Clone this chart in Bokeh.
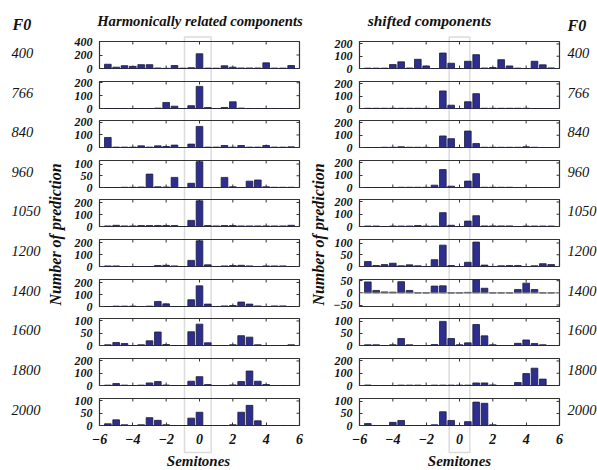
from bokeh.plotting import figure
from bokeh.models import Range1d, LinearAxis, FixedTicker, BoxAnnotation, Span
from bokeh.embed import file_html
from bokeh.resources import INLINE
from bokeh.core.properties import value

# ---------------- data ----------------
semitones = [-5.5, -5.0, -4.5, -4.0, -3.5, -3.0, -2.5, -2.0, -1.5, -1.0, -0.5, 0.0,
             0.5, 1.0, 1.5, 2.0, 2.5, 3.0, 3.5, 4.0, 4.5, 5.0, 5.5]
x_ticks = [-6, -4, -2, 0, 2, 4, 6]
f0_labels = ["400", "766", "840", "960", "1050", "1200", "1400", "1600", "1800", "2000"]

# Harmonically related components (left column)
harm_400 = [63, 20, 42, 32, 57, 57, 8, 3, 44, 5, 12, 218, 6, 5, 40, 20, 8, 8, 8, 84, 6, 6, 44]
harm_766 = [0, 0, 0, 0, 0, 0, 3, 47, 18, 0, 22, 172, 8, 0, 8, 52, 3, 0, 0, 0, 0, 0, 0]
harm_840 = [80, 3, 3, 3, 13, 3, 13, 8, 19, 0, 27, 168, 3, 3, 16, 3, 16, 3, 3, 16, 3, 3, 5]
harm_960 = [0, 0, 1, 1, 2, 57, 3, 2, 43, 0, 18, 110, 0, 0, 43, 3, 0, 27, 32, 3, 1, 1, 1]
harm_1050 = [5, 10, 5, 5, 8, 8, 8, 8, 8, 0, 51, 214, 8, 5, 8, 8, 5, 5, 5, 5, 5, 5, 10]
harm_1200 = [5, 5, 0, 0, 0, 0, 8, 10, 5, 0, 51, 214, 14, 0, 5, 8, 10, 5, 0, 5, 5, 5, 0]
harm_1400 = [0, 3, 3, 3, 0, 3, 42, 22, 0, 0, 56, 172, 20, 0, 5, 8, 37, 20, 5, 0, 5, 5, 0]
harm_1600 = [3, 12, 8, 0, 3, 19, 55, 4, 0, 0, 56, 87, 11, 0, 0, 3, 40, 34, 3, 0, 0, 0, 3]
harm_1800 = [3, 16, 3, 0, 3, 21, 32, 4, 0, 0, 35, 72, 8, 0, 0, 5, 32, 118, 35, 8, 0, 0, 0]
harm_2000 = [7, 23, 3, 0, 3, 32, 21, 3, 0, 0, 30, 54, 0, 0, 0, 3, 54, 82, 19, 0, 0, 0, 0]

# Shifted components (right column)
shift_400 = [3, 3, 3, 32, 54, 4, 75, 21, 0, 126, 43, 0, 59, 113, 4, 8, 72, 21, 3, 0, 59, 30, 5]
shift_766 = [2, 2, 2, 2, 2, 2, 2, 2, 0, 143, 27, 0, 55, 121, 2, 2, 2, 2, 2, 2, 0, 0, 0]
shift_840 = [0, 0, 2, 2, 6, 2, 2, 2, 0, 94, 72, 0, 134, 32, 2, 2, 2, 2, 2, 6, 2, 0, 0]
shift_960 = [0, 0, 0, 0, 2, 2, 2, 2, 19, 146, 11, 0, 52, 113, 2, 2, 2, 2, 0, 0, 0, 0, 0]
shift_1050 = [4, 4, 0, 4, 4, 4, 8, 4, 4, 113, 10, 0, 44, 88, 5, 5, 5, 5, 0, 4, 4, 4, 4]
shift_1200 = [21, 4, 8, 14, 3, 7, 3, 0, 29, 91, 4, 0, 18, 104, 6, 0, 3, 4, 4, 0, 3, 12, 8]
shift_1400 = [45, 10, 4, 3, 46, 10, 0, 0, 28, 29, 0, 0, 2, 55, 19, 0, 0, 0, 14, 40, 14, 0, 0]
shift_1600 = [3, 3, 0, 3, 29, 3, 0, 0, 4, 100, 29, 3, 11, 87, 40, 3, 0, 0, 9, 23, 8, 3, 0]
shift_1800 = [4, 0, 0, 0, 3, 3, 3, 0, 3, 3, 3, 3, 3, 21, 21, 5, 0, 0, 24, 97, 141, 52, 0]
shift_2000 = [8, 0, 0, 13, 21, 0, 0, 0, 3, 57, 21, 0, 16, 97, 92, 3, 0, 0, 0, 0, 0, 0, 0]

harm_series = [harm_400, harm_766, harm_840, harm_960, harm_1050,
               harm_1200, harm_1400, harm_1600, harm_1800, harm_2000]
shift_series = [shift_400, shift_766, shift_840, shift_960, shift_1050,
                shift_1200, shift_1400, shift_1600, shift_1800, shift_2000]

# y limits and y tick marks per panel
harm_ylim = [(0, 400), (0, 210), (0, 215), (0, 115), (0, 225),
             (0, 225), (0, 225), (0, 110), (0, 220), (0, 110)]
harm_yticks = [[0, 200, 400], [0, 100, 200], [0, 100, 200], [0, 50, 100], [0, 100, 200],
               [0, 100, 200], [0, 100, 200], [0, 50, 100], [0, 100, 200], [0, 50, 100]]
shift_ylim = [(0, 220), (0, 220), (0, 220), (0, 220), (0, 220),
              (0, 115), (-56, 55), (0, 112), (0, 220), (0, 112)]
shift_yticks = [[0, 100, 200], [0, 100, 200], [0, 100, 200], [0, 100, 200], [0, 100, 200],
                [0, 50, 100], [-50, 0, 50], [0, 50, 100], [0, 100, 200], [0, 50, 100]]

# highlighted semitone window (gray box) per column
harm_window = (-0.9, 0.7)
shift_window = (-0.62, 0.62)

# ---------------- style / layout ----------------
FONT = "Liberation Serif"
BAR_FILL = "#2e2e8e"
BAR_EDGE = "#1c1c3c"
FRAME = "#333333"
BOXC = "#8a8a8a"

W, H = 597, 470
LEFT_FRAME_X = 99
RIGHT_FRAME_X = 359
FRAME_W = 200
FRAME_H = 27
PANEL_TOPS = [41, 81, 120, 160, 199, 239, 279, 318, 358, 398]
BL, BT = 40, 12


def place(fig, left, top):
    fig.styles = {"position": "absolute", "left": f"{left}px", "top": f"{top}px"}


def make_axis(ticks, label_size="12px", standoff=7):
    ax = LinearAxis(ticker=FixedTicker(ticks=ticks))
    ax.axis_line_color = None
    ax.major_tick_in = 3
    ax.major_tick_out = 0
    ax.major_tick_line_color = FRAME
    ax.minor_tick_line_color = None
    ax.major_label_text_font = FONT
    ax.major_label_text_font_style = "bold italic"
    ax.major_label_text_font_size = label_size
    ax.major_label_text_color = "#111111"
    ax.major_label_standoff = standoff
    return ax


def make_panel(vals, ylim, yticks, bottom_row, frame_left, frame_top):
    p = figure(x_range=Range1d(-6, 6), y_range=Range1d(*ylim),
               frame_width=FRAME_W, frame_height=FRAME_H,
               min_border_left=BL, min_border_right=8, min_border_top=BT,
               min_border_bottom=34 if bottom_row else 8,
               toolbar_location=None, output_backend="svg",
               x_axis_location=None, y_axis_location=None)
    p.background_fill_color = None
    p.border_fill_color = None
    p.outline_line_color = FRAME
    p.outline_line_width = 1.2
    p.xgrid.grid_line_color = None
    p.ygrid.grid_line_color = None
    p.add_layout(make_axis(yticks), "left")
    if bottom_row:
        p.add_layout(make_axis(x_ticks, label_size="14px", standoff=8), "below")
    else:
        p.scatter(x=x_ticks, y=[ylim[0]] * len(x_ticks), marker="dash", angle=1.5708,
                  size=6, line_color=FRAME, line_width=1)
    # inward tick marks on the top and right edges of the box
    p.scatter(x=x_ticks, y=[ylim[1]] * len(x_ticks), marker="dash", angle=1.5708,
              size=6, line_color=FRAME, line_width=1)
    p.scatter(x=[6] * len(yticks), y=yticks, marker="dash", size=6,
              line_color=FRAME, line_width=1)
    if ylim[0] < 0:
        p.add_layout(Span(location=0, dimension="width", line_color="#8a8a8a", line_width=1))
    p.vbar(x=semitones, top=vals, bottom=0, width=0.4,
           fill_color=BAR_FILL, line_color=BAR_EDGE, line_width=0.8)
    place(p, frame_left - BL, frame_top - BT)
    return p


# background with all texts (pixel coordinates of the page)
bg = figure(width=W, height=H, x_range=Range1d(0, W), y_range=Range1d(0, H),
            min_border=0, toolbar_location=None, output_backend="svg",
            x_axis_location=None, y_axis_location=None)
bg.outline_line_color = None
bg.xgrid.grid_line_color = None
bg.ygrid.grid_line_color = None
bg.background_fill_color = "white"
bg.border_fill_color = "white"
place(bg, 0, 0)


def txt(x, y, s, size, style="bold italic", align="center", baseline="middle", angle=0.0):
    bg.text(x=[x], y=[H - y], text=[s], text_font=value(FONT), text_font_style=style,
            text_font_size=size, text_align=align, text_baseline=baseline,
            text_color="#111111", angle=angle)


txt(12, 24, "F0", "16px", align="left")
txt(567, 25, "F0", "16px", align="left")
txt(199.5, 20, "Harmonically related components", "14.7px")
txt(429, 20, "shifted components", "15.5px")
for i, lab in enumerate(f0_labels):
    cy = PANEL_TOPS[i] + FRAME_H / 2 - 2
    txt(11, cy, lab, "14.5px", style="italic", align="left")
    txt(567, cy, lab, "14.5px", style="italic", align="left")
txt(55, 234, "Number of prediction", "16px", angle=1.5708)
txt(318, 234, "Number of prediction", "16px", angle=1.5708)
txt(198, 460, "Semitones", "15px")
txt(459, 460, "Semitones", "15px")


def make_box(frame_left, window):
    b = figure(width=FRAME_W, height=430, x_range=Range1d(-6, 6), y_range=Range1d(0, 430),
               min_border=0, toolbar_location=None, output_backend="svg",
               x_axis_location=None, y_axis_location=None)
    b.outline_line_color = None
    b.background_fill_color = None
    b.border_fill_color = None
    b.xgrid.grid_line_color = None
    b.ygrid.grid_line_color = None
    b.add_layout(BoxAnnotation(left=window[0], right=window[1], bottom=8, top=423.5,
                               fill_color=None, line_color=BOXC, line_width=1.5))
    place(b, frame_left, 30)
    return b


roots = [bg, make_box(LEFT_FRAME_X, harm_window), make_box(RIGHT_FRAME_X, shift_window)]
for i in range(10):
    roots.append(make_panel(harm_series[i], harm_ylim[i], harm_yticks[i], i == 9,
                            LEFT_FRAME_X, PANEL_TOPS[i]))
    roots.append(make_panel(shift_series[i], shift_ylim[i], shift_yticks[i], i == 9,
                            RIGHT_FRAME_X, PANEL_TOPS[i]))

p = roots
open("out.html", "w").write(file_html(p, INLINE))
